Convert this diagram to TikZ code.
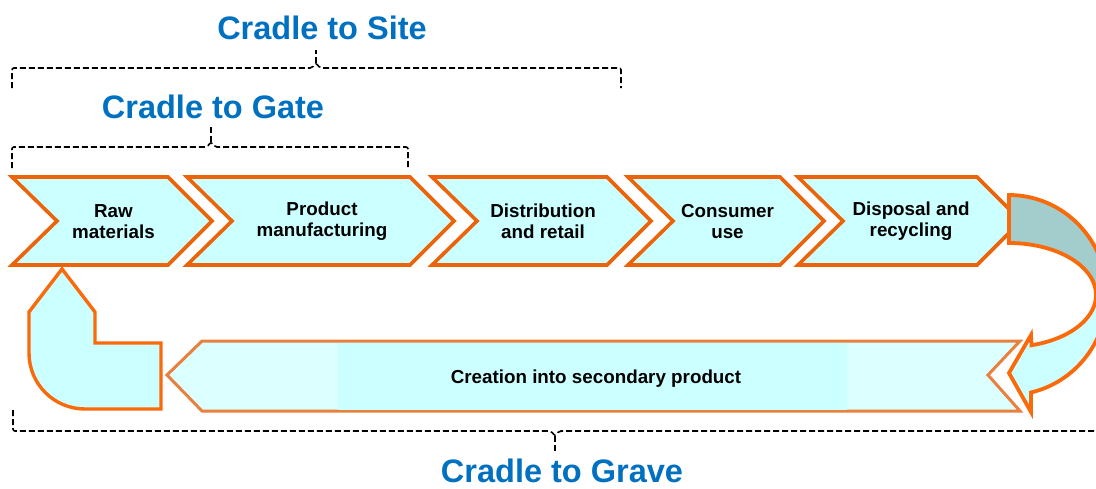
\documentclass[tikz,border=0pt]{standalone}
\usepackage{fontspec}
\setmainfont{Liberation Sans}

\definecolor{edgeorange}{RGB}{235,100,10}
\definecolor{arroworange}{RGB}{250,105,10}
\definecolor{softorange}{RGB}{232,128,62}
\definecolor{paleaqua}{RGB}{204,255,255}
\definecolor{paleraqua}{RGB}{220,255,255}
\definecolor{greyteal}{RGB}{163,204,204}
\definecolor{stageblue}{RGB}{0,112,192}

\tikzset{
  chev/.style={draw=edgeorange, fill=paleaqua, line width=3.6pt, line join=miter},
  chevtext/.style={font=\bfseries\fontsize{18.8}{21}\selectfont, align=center, inner sep=0pt},
  bracketline/.style={draw=black, line width=1.6pt, dash pattern=on 6pt off 3pt, rounded corners=2pt},
  stagelabel/.style={font=\bfseries\fontsize{32.5}{36}\selectfont, text=stageblue, inner sep=0pt},
  lshape/.style={draw=arroworange, fill=paleaqua, line width=3.4pt, line join=miter},
  returnarrow/.style={draw=softorange, fill=paleraqua, line width=3pt, line join=miter},
  bendarrow/.style={draw=arroworange, line width=3.8pt, line join=miter},
}

% one stage of the chain: left x, right x, node name, label
\newcommand\chevronbox[4]{%
  \draw[chev] (#1,177) -- (#2,177) -- ({#2+44},221) -- (#2,265) -- (#1,265) -- ({#1+45},221) -- cycle;
  \node[chevtext] (#3) at ({(#1+45+#2)/2+1},221.5) {#4};
}

% outline of the U-turn arrow at the right end
\newcommand\bendpath{(1009,197) -- plot[domain=-90:77,samples=60] ({1009+98*cos(\x)},{295+100*sin(\x)})
  -- (1031,412) -- (1009,373) -- (1031,335)
  -- plot[domain=75:-90,samples=60] ({1009+87*cos(\x)},{295+52*sin(\x)}) -- cycle}

\begin{document}
\begin{tikzpicture}[x=1pt,y=-1pt]
\useasboundingbox (0,0) rectangle (1096,488);
\begin{scope}
\clip (0,0) rectangle (1096,488);

% life-cycle stages
\chevronbox{12}{168}{raw}{Raw\\materials}
\chevronbox{187}{410}{manuf}{Product\\manufacturing}
\chevronbox{432}{607}{distrib}{Distribution\\and retail}
\chevronbox{628}{780}{consumer}{Consumer\\use}
\chevronbox{798}{977}{disposal}{Disposal and\\recycling}

% return flow towards the raw materials
\draw[returnarrow] (167,375) -- (202,341) -- (1020,341) -- (988,375) -- (1020,411) -- (202,411) -- cycle;
\fill[paleaqua] (338,342.5) rectangle (847,409.5);
\node[chevtext, anchor=base] (secondary) at (596,383) {Creation into secondary product};

% bent arrow back up to the first stage
\draw[lshape] (62,269) -- (95,312) -- (95,343) -- (161,343) -- (161,409) -- (85,409)
  .. controls (54,409) and (29,384) .. (29,353) -- (29,312) -- cycle;

% U-turn from disposal to the return flow
\fill[paleaqua] \bendpath;
\begin{scope}
  \clip (990,150) rectangle (1100,293);
  \fill[greyteal] \bendpath;
\end{scope}
\draw[bendarrow] \bendpath;

% scope brackets
\draw[bracketline] (12,88) -- (12,68) -- (312,68) -- (316,63) -- (320,68) -- (621,68) -- (621,88);
\draw[bracketline] (316,63) -- (316,50);
\draw[bracketline] (12,168) -- (12,147) -- (207,147) -- (211,142) -- (215,147) -- (408,147) -- (408,167);
\draw[bracketline] (211,142) -- (211,125);
\draw[bracketline] (13,410) -- (13,431) -- (551,431) -- (555,436) -- (559,431) -- (1110,431);
\draw[bracketline] (555,436) -- (555,452);

% scope labels
\node[stagelabel] (site) at (322,28) {Cradle to Site};
\node[stagelabel] (gate) at (213,107) {Cradle to Gate};
\node[stagelabel] (grave) at (562,471) {Cradle to Grave};
\end{scope}
\end{tikzpicture}
\end{document}
